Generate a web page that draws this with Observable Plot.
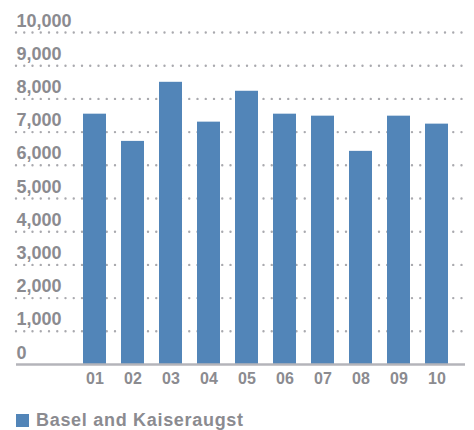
<!DOCTYPE html>
<html>
<head>
<meta charset="utf-8">
<script src="https://cdn.jsdelivr.net/npm/d3@7"></script>
<script src="https://cdn.jsdelivr.net/npm/@observablehq/plot@0.6"></script>
<style>
  html, body { margin: 0; padding: 0; background: #fff; overflow: hidden; }
  body { width: 474px; height: 430px; position: relative; font-family: "Liberation Sans", Arial, sans-serif; }
  #legend { position: absolute; left: 16px; top: 410px; height: 21px; display: flex; align-items: center;
            font-size: 18px; font-weight: 700; color: #8b8b90; white-space: nowrap; letter-spacing: 0.7px; }
  #legend .sw { width: 13px; height: 13px; background: #5285b8; margin-right: 7px; }
</style>
</head>
<body>
<div id="chart"></div>
<div id="legend"><span class="sw"></span><span>Basel and Kaiseraugst</span></div>
<script>
const months = ["01", "02", "03", "04", "05", "06", "07", "08", "09", "10"];
const values = [7540, 6720, 8500, 7300, 8230, 7540, 7480, 6420, 7480, 7240];
const yTicks = [0, 1000, 2000, 3000, 4000, 5000, 6000, 7000, 8000, 9000, 10000];
const seriesName = "Basel and Kaiseraugst";

const data = months.map((m, i) => ({month: m, value: values[i], series: seriesName}));
const gray = "#8b8b90";
const barColor = "#5285b8";

const chart = Plot.plot({
  width: 474,
  height: 392,
  marginLeft: 16,
  marginRight: 9,
  marginTop: 32,
  marginBottom: 28,
  style: {fontFamily: "'Liberation Sans', Arial, sans-serif", background: "#fff"},
  x: {type: "band", domain: months, paddingInner: 0.395, paddingOuter: 0, insetLeft: 67, insetRight: 17, round: false, axis: null},
  y: {domain: [0, 10000], axis: null},
  marks: [
    Plot.ruleY(yTicks.filter(d => d > 0), {
      stroke: "#a9a9ae", strokeWidth: 2.4, strokeDasharray: "0 8.25", strokeLinecap: "round"
    }),
    Plot.barY(data, {x: "month", y: "value", fill: barColor}),
    Plot.ruleY([0], {stroke: "#b4b4ba", strokeWidth: 2.3}),
    Plot.text(yTicks, {
      y: d => d, frameAnchor: "left", textAnchor: "start", lineAnchor: "bottom", dy: -6,
      text: d => d3.format(",")(d), fontSize: 18, fontWeight: 700, fill: gray
    }),
    Plot.axisX({tickSize: 0, tickPadding: 8, fontSize: 16, fontWeight: 700, fill: gray, label: null})
  ]
});
document.getElementById("chart").appendChild(chart);
</script>
</body>
</html>
